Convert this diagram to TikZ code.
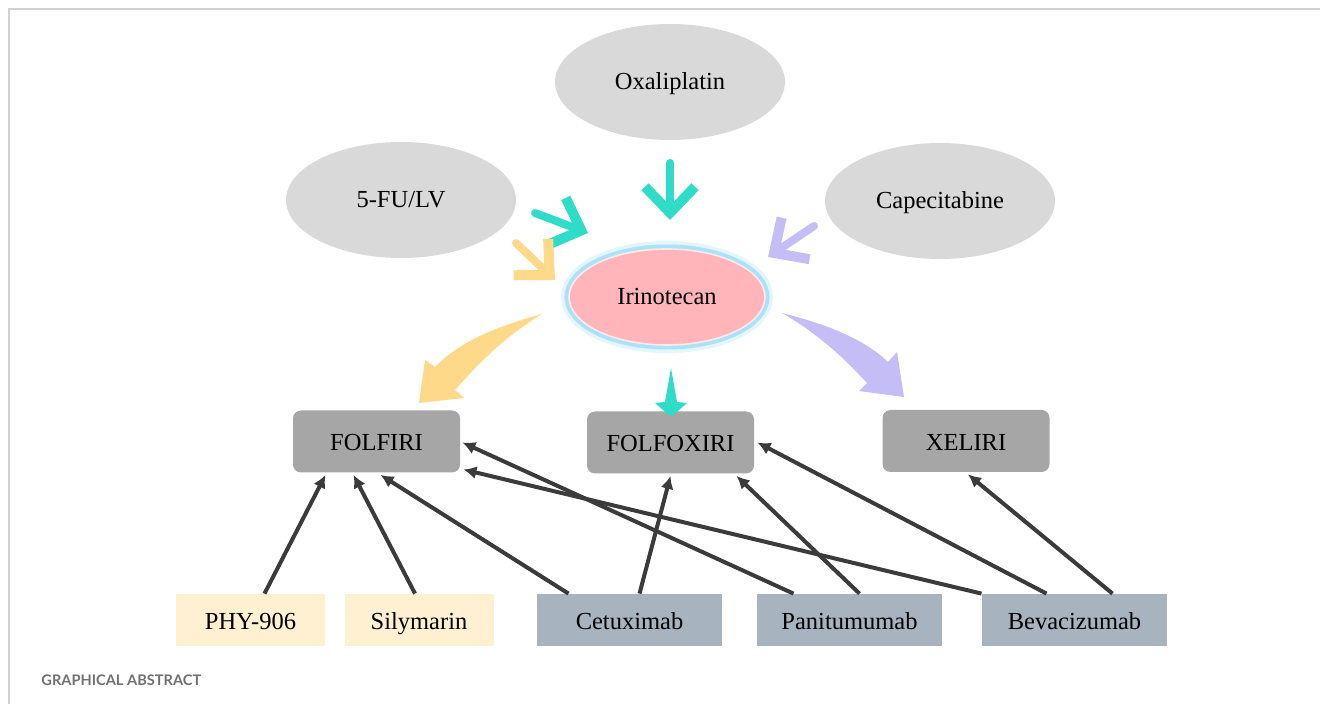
\documentclass[tikz,border=0pt]{standalone}
\usepackage{fontspec}
\setmainfont{Liberation Serif}
\newfontfamily\capfont{Lato}
\usetikzlibrary{arrows.meta, shapes.geometric, calc}
\definecolor{drugrey}{HTML}{D9D9D9}
\definecolor{iripink}{HTML}{FFB5BA}
\definecolor{glowblue}{HTML}{8ED8F8}
\definecolor{regimengrey}{HTML}{A6A6A6}
\definecolor{herbcream}{HTML}{FFF0D2}
\definecolor{mabslate}{HTML}{A7B4BF}
\definecolor{linkgrey}{HTML}{3B3B3B}
\definecolor{feedteal}{HTML}{2EDCC8}
\definecolor{feedyellow}{HTML}{FFD98A}
\definecolor{feedpurple}{HTML}{C5BDF5}
\definecolor{framegrey}{HTML}{D2D2D2}
\definecolor{capgrey}{HTML}{707070}

\begin{document}
\begin{tikzpicture}[
  x = 0.5pt, y = -0.5pt,
  font = \fontsize{12.25}{14}\selectfont,
  %
  % ── Node styles ─────────────────────────────────────────────────
  drug/.style     = {ellipse, fill=drugrey, inner sep=0pt,
                     text height=8pt, text depth=0pt,
                     minimum width=115pt, minimum height=58pt},
  core/.style     = {ellipse, fill=iripink, inner sep=0pt,
                     text height=8pt, text depth=0pt,
                     draw=iripink!30!white, line width=0.8pt,
                     minimum width=98pt, minimum height=48pt,
                     preaction={draw=glowblue!25, line width=8pt},
                     preaction={draw=glowblue!75, line width=4.5pt}},
  box/.style      = {text height=9.5pt, text depth=0pt},
  regimen/.style  = {box, fill=regimengrey, rounded corners=4pt,
                     minimum width=83.5pt, minimum height=31pt},
  herb/.style     = {box, fill=herbcream, minimum width=74.5pt, minimum height=26pt},
  mab/.style      = {box, fill=mabslate, minimum width=92.5pt, minimum height=26pt},
  link/.style     = {-{Latex[length=6.5pt, width=6.5pt]}, line width=2pt,
                     draw=linkgrey},
  feed/.style     = {line width=4pt, line cap=round,
                     -{Straight Barb[length=13pt, width=25pt, line width=5pt]}},
]

\useasboundingbox (0,0) rectangle (1320,704);
\draw[framegrey, line width=0.8pt] (1324,9) -- (9,9) -- (9,708);

%% ═══════════════════════════════════════════════════════════════════
%% TOP — partner drugs and irinotecan
%% ═══════════════════════════════════════════════════════════════════

\node[drug] (oxa)  at (670,82)  {Oxaliplatin};
\node[drug] (fu)   at (401,200) {5-FU/LV};
\node[drug] (cape) at (940,201) {Capecitabine};

\node[core] (iri) at (667,297) {Irinotecan};

%% ── Arrows ───────────────────────────────────────────────────────
\draw[feed, feedteal]   ($(oxa)+(0,81)$)     -- ($(iri)+(3,-77)$);
\draw[feed, feedteal]   ($(fu)+(134,13)$)    -- ($(iri)+(-79,-64)$);
\draw[feed, feedyellow] ($(fu)+(115,43)$)    -- ($(iri)+(-112,-17)$);
\draw[feed, feedpurple] ($(cape)+(-126,25)$) -- ($(iri)+(101,-40)$);

%% ═══════════════════════════════════════════════════════════════════
%% MIDDLE — regimens
%% ═══════════════════════════════════════════════════════════════════

\node[regimen] (folfiri)   at (376.5,441.5) {FOLFIRI};
\node[regimen] (folfoxiri) at (670.5,442.5) {FOLFOXIRI};
\node[regimen] (xeliri)    at (966,441)     {XELIRI};

%% ── Swoosh arrows out of irinotecan ──────────────────────────────
\fill[feedyellow] (542,314) .. controls (494,327) and (458,343) .. (435,367)
  -- (425,360) -- (419,403) -- (464,398) -- (455,390)
  .. controls (473,370) and (498,341) .. cycle;
\fill[feedpurple] (782,313) .. controls (830,325) and (865,340) .. (888,362)
  -- (897,352) -- (904,397) -- (859,391) -- (867,383)
  .. controls (850,365) and (825,338) .. cycle;
\fill[feedteal] (671,368) -- (677,402) -- (687,403) -- (671,417)
  -- (655,403) -- (665,402) -- cycle;

%% ═══════════════════════════════════════════════════════════════════
%% BOTTOM — add-on agents
%% ═══════════════════════════════════════════════════════════════════

\node[herb] (phy)   at (250.5,620)  {PHY-906};
\node[herb] (sily)  at (419,620)    {Silymarin};
\node[mab]  (cetux) at (629.5,620)  {Cetuximab};
\node[mab]  (panit) at (849.5,620)  {Panitumumab};
\node[mab]  (bevac) at (1074.5,620) {Bevacizumab};

%% ── Arrows ───────────────────────────────────────────────────────
\draw[link] ($(phy.north)+(14,0)$)   -- ($(folfiri.south)+(-51,2)$);
\draw[link] ($(sily.north)+(-4,0)$)  -- ($(folfiri.south)+(-23,2)$);
\draw[link] ($(cetux.north)+(-61,0)$) -- ($(folfiri.south)+(4,2)$);
\draw[link] ($(cetux.north)+(10,0)$) -- ($(folfoxiri.south)+(0,2)$);
\draw[link] ($(panit.north)+(-56,0)$) -- ($(folfiri.east)+(2,1)$);
\draw[link] ($(panit.north)+(10,0)$) -- ($(folfoxiri.south)+(66,2)$);
\draw[link] ($(bevac.north)+(-93,0)$) -- ($(folfiri.east)+(3,28)$);
\draw[link] ($(bevac.north)+(-28,0)$) -- ($(folfoxiri.east)+(3,0)$);
\draw[link] ($(bevac.north)+(38,0)$) -- ($(xeliri.south)+(2,2)$);

\node[anchor=base west, inner sep=0pt, text=capgrey,
      font=\capfont\bfseries\fontsize{7.3}{9}\selectfont]
  (caption) at (41,685) {GRAPHICAL ABSTRACT};

\end{tikzpicture}
\end{document}
